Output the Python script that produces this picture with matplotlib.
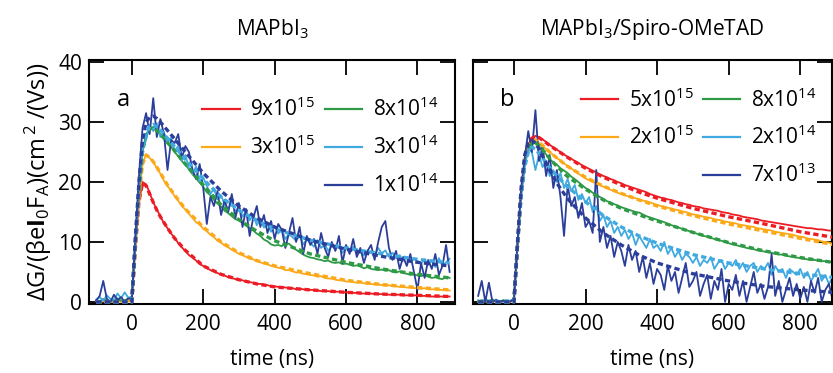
import numpy as np
import matplotlib.pyplot as plt
from matplotlib.lines import Line2D

plt.rcParams['font.family'] = ['Open Sans', 'DejaVu Sans']
plt.rcParams['mathtext.fontset'] = 'custom'
plt.rcParams['mathtext.rm'] = 'Open Sans'
plt.rcParams['mathtext.it'] = 'Open Sans:italic'
plt.rcParams['mathtext.bf'] = 'Open Sans:bold'

# measured traces sampled every 10 ns from -100 to 890 ns
t = np.arange(-100, 900, 10)
# fit curves
t_fit = [-100, -10, 0, 10, 20, 30, 40, 50, 60, 70, 80, 100, 120, 150, 200,
         250, 300, 350, 400, 500, 600, 700, 800, 890]

colors = ['#ED1C24', '#FBA919', '#2E9A45', '#3FA9E0', '#2B3E99']

labels_a = ['9x10$^{15}$', '3x10$^{15}$', '8x10$^{14}$', '3x10$^{14}$', '1x10$^{14}$']
labels_b = ['5x10$^{15}$', '2x10$^{15}$', '8x10$^{14}$', '2x10$^{14}$', '7x10$^{13}$']

# ---- panel a: MAPbI3 ----
a_red = [0.1, 0.0, 0.2, 0.0, 0.1, 0.0, 0.1, 0.2, 0.0, 0.1,
         0.3,
         9.0, 16.5, 20.0, 19.6, 18.2, 16.6, 15.4, 14.3, 13.1, 12.3,
         11.4, 10.7, 9.8, 9.1, 8.5, 7.8, 7.4, 6.9, 6.3, 6.0,
         5.7, 5.3, 5.1, 4.8, 4.6, 4.4, 4.1, 4.0, 3.8, 3.7,
         3.6, 3.4, 3.3, 3.2, 3.0, 3.0, 2.9, 2.8, 2.6, 2.6,
         2.5, 2.5, 2.4, 2.3, 2.3, 2.1, 2.2, 2.1, 2.0, 2.0,
         2.0, 1.9, 1.8, 1.8, 1.8, 1.7, 1.7, 1.7, 1.6, 1.6,
         1.6, 1.5, 1.5, 1.4, 1.4, 1.4, 1.4, 1.3, 1.3, 1.3,
         1.3, 1.2, 1.2, 1.2, 1.2, 1.1, 1.1, 1.1, 1.1, 1.1,
         1.0, 1.0, 1.0, 0.9, 0.9, 0.9, 0.9, 0.9, 0.9]
a_orange = [0.2, 0.0, 0.1, 0.3, 0.0, 0.2, 0.1, 0.0, 0.3, 0.1,
            0.4,
            9.5, 17.5, 23.0, 24.6, 24.0, 23.4, 22.3, 21.4, 20.2, 19.3,
            18.6, 17.6, 16.9, 16.0, 15.4, 14.7, 14.0, 13.3, 12.9, 12.2,
            11.8, 11.2, 10.8, 10.2, 9.9, 9.4, 9.1, 8.7, 8.4, 8.0,
            7.8, 7.5, 7.2, 7.1, 6.8, 6.6, 6.4, 6.3, 6.0, 5.9,
            5.7, 5.6, 5.3, 5.3, 5.1, 4.9, 4.9, 4.7, 4.6, 4.5,
            4.4, 4.2, 4.3, 4.0, 3.9, 3.9, 3.7, 3.6, 3.6, 3.4,
            3.4, 3.3, 3.2, 3.3, 3.1, 3.0, 3.0, 2.9, 2.9, 2.8,
            2.7, 2.8, 2.6, 2.6, 2.5, 2.5, 2.4, 2.4, 2.3, 2.3,
            2.2, 2.3, 2.1, 2.1, 2.1, 2.0, 2.0, 2.0, 1.9]
a_green = [0.3, 0.1, 0.5, 0.2, 0.0, 0.4, 0.6, 0.2, 0.3, 0.5,
           0.6,
           10.0, 18.5, 25.0, 28.0, 28.8, 29.2, 28.6, 28.0, 27.2, 26.4,
           25.9, 25.0, 24.3, 23.5, 22.9, 22.1, 21.3, 20.6, 19.9, 19.2,
           18.3, 17.8, 17.0, 16.4, 15.9, 15.2, 14.8, 14.3, 13.8, 13.6,
           13.2, 12.7, 12.3, 11.9, 11.4, 11.0, 10.4, 10.1, 9.6, 9.4,
           9.5, 9.3, 9.8, 9.7, 9.2, 8.7, 8.3, 7.9, 7.6, 7.4,
           7.3, 7.1, 7.0, 6.8, 6.9, 6.6, 6.5, 6.6, 6.3, 6.4,
           6.2, 6.0, 6.1, 5.9, 5.6, 5.8, 5.5, 5.4, 5.3, 5.4,
           5.2, 5.3, 5.0, 4.9, 5.1, 4.8, 4.7, 4.5, 4.6, 4.4,
           4.3, 4.5, 4.2, 4.0, 4.1, 3.9, 3.8, 4.2, 4.0]
a_lblue = [0.4, 0.8, 0.2, 1.1, 0.5, 0.3, 1.4, 0.6, 1.6, 0.7,
           0.9,
           10.5, 19.5, 25.5, 27.0, 29.5, 28.5, 29.8, 27.5, 28.3, 26.6,
           27.4, 25.2, 26.0, 23.6, 24.5, 22.3, 21.4, 22.6, 20.1, 20.8,
           19.3, 18.0, 18.9, 17.1, 17.8, 16.2, 15.4, 16.8, 15.0, 15.9,
           14.2, 15.1, 13.6, 14.5, 12.8, 13.9, 12.4, 12.9, 11.7, 12.6,
           11.4, 12.1, 10.5, 11.3, 10.8, 10.2, 11.0, 9.6, 10.4, 9.9,
           9.2, 10.3, 9.0, 9.6, 8.5, 9.4, 8.8, 9.3, 8.2, 9.0,
           8.6, 9.2, 8.0, 8.7, 7.7, 8.5, 8.3, 7.6, 9.0, 8.1,
           8.6, 7.5, 8.2, 7.3, 7.8, 6.9, 7.5, 6.6, 7.2, 6.8,
           6.4, 7.1, 6.2, 6.9, 5.8, 7.3, 6.0, 6.6, 7.2]
a_dblue = [0.2, 1.0, 3.5, 0.5, 0.0, 1.2, 0.3, 0.8, 0.0, 0.6,
           0.5,
           11.0, 21.0, 29.0, 31.5, 28.0, 34.0, 27.5, 30.5, 28.0, 22.0,
           27.0, 26.5, 28.0, 24.0, 26.0, 25.0, 22.0, 20.5, 23.0, 19.0,
           13.0, 17.5, 16.0, 18.5, 14.5, 17.0, 15.0, 18.0, 14.0, 16.5,
           12.5, 15.5, 11.0, 14.0, 16.0, 12.5, 14.5, 11.5, 13.5, 10.5,
           13.0, 12.0, 9.0, 11.5, 14.0, 10.0, 12.5, 8.0, 11.0, 9.5,
           10.5, 8.0, 11.5, 9.0, 7.5, 10.0, 8.5, 11.0, 6.5, 9.5,
           8.0, 10.5, 7.5, 9.0, 6.5, 8.5, 9.5, 7.0, 10.0, 12.5,
           13.5, 9.0, 7.0, 8.5, 5.5, 7.5, 6.0, 8.0, 5.0, 2.0,
           6.5, 4.0, 7.0, 5.5, 8.0, 4.5, 6.0, 9.5, 5.0]

a_red_fit = [0, 0, 0, 9, 16.8, 19.8, 19.4, 18.0, 16.6, 15.3, 14.2, 12.3, 10.6,
             8.6, 6.0, 4.6, 3.7, 3.0, 2.5, 2.0, 1.6, 1.3, 1.1, 0.9]
a_orange_fit = [0, 0, 0, 9.5, 17.5, 23, 24.5, 24.1, 23.4, 22.5, 21.5, 19.5, 17.8,
                15.5, 12.5, 10.0, 8.2, 6.9, 6.0, 4.7, 3.6, 2.9, 2.4, 2.0]
a_green_fit = [0, 0, 0, 10, 18.5, 25, 28, 28.9, 29, 28.6, 28.0, 26.6, 25.2,
               23.0, 19.5, 16.2, 13.7, 11.8, 10.2, 8.0, 6.6, 5.5, 4.6, 4.0]
a_lblue_fit = [0, 0, 0, 10.5, 19.5, 25.5, 28, 29.3, 29.6, 29.2, 28.7, 27.3, 25.9,
               23.8, 20.5, 17.5, 15.3, 13.6, 12.2, 10.3, 9.0, 8.0, 7.1, 6.5]
a_dblue_fit = [0, 0, 0, 10.8, 20, 27, 30, 30.8, 31, 30.6, 30, 28.6, 27.2,
               25, 21.5, 18.5, 16.0, 14.0, 12.5, 10.3, 8.8, 7.6, 6.6, 6.0]

# ---- panel b: MAPbI3/Spiro-OMeTAD ----
b_red = [0.1, 0.0, 0.2, 0.1, 0.0, 0.2, 0.0, 0.1, 0.1, 0.0,
         0.3,
         9.5, 18.0, 23.5, 26.3, 27.3, 27.7, 27.5, 27.1, 26.7, 26.2,
         25.8, 25.4, 25.0, 24.6, 24.2, 23.9, 23.5, 23.2, 22.8, 22.5,
         22.2, 21.9, 21.6, 21.3, 21.0, 20.8, 20.5, 20.3, 20.0, 19.8,
         19.5, 19.3, 19.1, 18.9, 18.7, 18.5, 18.3, 18.0, 17.8, 17.6,
         17.4, 17.3, 17.1, 17.0, 16.8, 16.6, 16.5, 16.3, 16.2, 16.0,
         15.9, 15.8, 15.6, 15.5, 15.4, 15.3, 15.2, 15.0, 14.9, 14.8,
         14.6, 14.5, 14.4, 14.2, 14.1, 14.0, 13.9, 13.8, 13.6, 13.5,
         13.4, 13.3, 13.2, 13.1, 13.0, 12.9, 12.8, 12.7, 12.6, 12.5,
         12.4, 12.3, 12.3, 12.2, 12.1, 12.1, 12.0, 11.9, 11.9]
b_orange = [0.0, 0.2, 0.1, 0.0, 0.2, 0.1, 0.0, 0.2, 0.0, 0.1,
            0.3,
            9.5, 18.0, 23.5, 26.0, 26.8, 27.0, 26.5, 26.0, 25.5, 25.0,
            24.5, 24.0, 23.6, 23.1, 22.7, 22.3, 21.8, 21.4, 21.0, 20.6,
            20.3, 20.0, 19.8, 19.5, 19.2, 19.0, 18.7, 18.5, 18.2, 18.0,
            17.8, 17.6, 17.4, 17.3, 17.1, 16.9, 16.8, 16.6, 16.4, 16.2,
            16.0, 15.9, 15.7, 15.6, 15.4, 15.3, 15.1, 15.0, 14.8, 14.6,
            14.5, 14.4, 14.2, 14.1, 14.0, 13.8, 13.7, 13.6, 13.4, 13.3,
            13.2, 13.1, 12.9, 12.8, 12.7, 12.6, 12.5, 12.3, 12.2, 12.1,
            12.0, 11.9, 11.7, 11.6, 11.5, 11.4, 11.3, 11.2, 11.0, 10.9,
            10.8, 10.6, 10.5, 10.4, 10.3, 10.1, 10.0, 9.9, 9.7]
b_green = [0.1, 0.3, 0.0, 0.2, 0.4, 0.1, 0.0, 0.3, 0.2, 0.1,
           0.3,
           9.5, 18.0, 23.0, 25.5, 26.4, 26.5, 26.0, 25.3, 24.6, 23.8,
           23.3, 22.9, 22.3, 21.9, 21.5, 20.9, 20.5, 20.0, 19.5, 19.0,
           18.7, 18.2, 17.9, 17.5, 17.2, 16.8, 16.6, 16.3, 16.1, 15.8,
           15.6, 15.4, 15.2, 15.0, 14.9, 14.6, 14.3, 14.1, 13.9, 13.7,
           13.5, 13.3, 13.0, 12.8, 12.6, 12.4, 12.2, 12.0, 11.8, 11.6,
           11.4, 11.2, 11.0, 10.9, 10.7, 10.5, 10.3, 10.2, 10.0, 9.8,
           9.6, 9.5, 9.3, 9.2, 9.0, 8.9, 8.8, 8.6, 8.5, 8.4,
           8.3, 8.2, 8.0, 7.9, 7.9, 7.7, 7.6, 7.5, 7.4, 7.3,
           7.2, 7.1, 7.0, 7.0, 6.9, 6.8, 6.8, 6.7, 6.6]
b_lblue = [0.3, 0.0, 0.5, 0.2, 0.0, 0.4, 0.1, 0.0, 0.3, 0.2,
           0.4,
           9.5, 17.5, 22.5, 25.5, 25.0, 22.0, 24.5, 22.5, 23.5, 21.0,
           22.0, 20.0, 21.5, 19.0, 20.5, 18.5, 19.5, 17.0, 18.0, 16.5,
           17.5, 15.0, 16.0, 13.5, 14.5, 12.5, 13.5, 11.5, 12.5, 11.0,
           12.0, 10.5, 11.5, 9.5, 11.0, 10.0, 9.0, 10.5, 9.0, 9.5,
           8.5, 10.0, 8.0, 9.0, 7.5, 8.5, 7.0, 8.0, 7.5, 6.5,
           7.5, 6.0, 7.0, 6.5, 7.5, 5.5, 6.5, 7.0, 5.5, 6.5,
           6.0, 7.0, 5.5, 6.5, 5.0, 6.0, 6.5, 5.0, 6.0, 5.5,
           6.5, 4.5, 6.0, 5.0, 5.5, 4.0, 5.5, 5.0, 4.5, 5.5,
           4.0, 5.0, 3.5, 4.5, 5.5, 3.5, 4.5, 3.0, 4.0]
b_dblue = [1.0, 3.5, 0.0, 3.2, 0.0, 0.3, 0.0, 0.2, 0.0, 0.1,
           0.5,
           10.0, 19.0, 24.0, 28.5, 25.0, 32.0, 23.5, 26.0, 21.0, 24.5,
           19.0, 22.0, 17.5, 11.0, 19.5, 16.0, 17.5, 14.0, 16.5, 12.5,
           13.5, 11.5, 22.0, 10.0, 12.5, 9.0, 11.0, 7.5, 10.0, 8.5,
           6.0, 9.5, 7.0, 8.5, 5.0, 7.5, 4.0, 6.5, 3.0, 5.5,
           4.5, 2.0, 6.0, 3.5, 5.0, 1.5, 4.0, 6.5, 2.5, 3.5,
           5.0, 1.0, 3.0, 4.5, 0.5, 3.5, 2.0, 5.5, 0.0, 3.0,
           2.0, 4.5, 1.0, 3.5, 0.0, 2.5, 5.0, 1.5, 3.0, 0.5,
           2.5, 8.0, 1.0, 3.5, 0.0, 2.0, 4.0, 1.0, 3.0, 0.5,
           2.5, 0.0, 3.5, 1.5, 4.0, 0.0, 2.0, 3.0, 0.5]

b_red_fit = [0, 0, 0, 9.5, 18, 23.5, 26.3, 27.3, 27.6, 27.4, 27.0, 26.1, 25.3,
             24.1, 22.3, 20.8, 19.5, 18.3, 17.3, 15.6, 14.2, 13.0, 11.7, 10.8]
b_orange_fit = [0, 0, 0, 9.5, 18, 23.5, 26, 26.8, 27, 26.6, 26.1, 25.0, 24.0,
                22.6, 20.8, 19.3, 18.1, 17.0, 16.0, 14.4, 13.0, 11.8, 10.6, 9.6]
b_green_fit = [0, 0, 0, 9.5, 18, 23, 25.5, 26.4, 26.5, 26.1, 25.4, 23.9, 22.6,
               20.9, 18.8, 17.0, 15.6, 14.5, 13.5, 11.6, 9.9, 8.5, 7.4, 6.6]
b_lblue_fit = [0, 0, 0, 9.5, 17.5, 22.5, 25, 25.8, 25.5, 24.8, 24.0, 22.4, 21.0,
               19.2, 16.7, 14.4, 12.5, 11.0, 9.8, 7.9, 6.5, 5.5, 4.7, 4.1]
b_dblue_fit = [0, 0, 0, 10, 19, 24.5, 26.5, 27, 26.5, 25.5, 24.3, 22, 19.8,
               17.2, 14.0, 11.5, 9.5, 7.8, 6.5, 4.7, 3.5, 2.6, 2.0, 1.6]

meas_a = [a_red, a_orange, a_green, a_lblue, a_dblue]
fits_a = [a_red_fit, a_orange_fit, a_green_fit, a_lblue_fit, a_dblue_fit]
meas_b = [b_red, b_orange, b_green, b_lblue, b_dblue]
fits_b = [b_red_fit, b_orange_fit, b_green_fit, b_lblue_fit, b_dblue_fit]

fig = plt.figure(figsize=(8.33, 3.73), dpi=100)
ax1 = fig.add_axes([0.1068, 0.185, 0.4394, 0.654])
ax2 = fig.add_axes([0.568, 0.185, 0.4305, 0.654])

def draw(ax, meas, fits, labels, xlim, panel, title, leg_anchor):
    for c, m, f in zip(colors, meas, fits):
        ax.plot(t, m, color=c, lw=1.3, zorder=2)
        ax.plot(t_fit, f, color=c, lw=2.4, dashes=(1.6, 1.0), zorder=3)
    ax.set_xlim(*xlim)
    ax.set_ylim(-0.35, 40.35)
    ax.set_xticks([0, 200, 400, 600, 800])
    ax.set_yticks([0, 10, 20, 30, 40])
    ax.tick_params(direction='in', length=11, width=1.3, top=True, right=True,
                   labelsize=15)
    ax.tick_params(axis='x', pad=7)
    ax.tick_params(axis='y', pad=5)
    for s in ax.spines.values():
        s.set_linewidth(1.5)
    ax.set_xlabel('time (ns)', fontsize=15, labelpad=10)
    ax.set_title(title, fontsize=15, pad=18)
    ax.text(0.075, 0.81, panel, transform=ax.transAxes, fontsize=17)
    h = [Line2D([], [], color=c, lw=1.6) for c in colors]
    blank = Line2D([], [], color='none')
    handles = [h[0], h[1], blank, h[2], h[3], h[4]]
    labs = [labels[0], labels[1], '', labels[2], labels[3], labels[4]]
    ax.legend(handles, labs, ncol=2, frameon=False, fontsize=15,
              loc='upper left', bbox_to_anchor=leg_anchor,
              handlelength=1.8, handletextpad=0.5, columnspacing=0.45,
              labelspacing=0.68, borderpad=0, borderaxespad=0)

draw(ax1, meas_a, fits_a, labels_a, (-120, 905), 'a', 'MAPbI$_3$', (0.31, 0.845))
draw(ax2, meas_b, fits_b, labels_b, (-114, 888), 'b', 'MAPbI$_3$/Spiro-OMeTAD', (0.30, 0.885))
ax2.tick_params(labelleft=False)
ax1.set_ylabel('ΔG/(βe$\\mathbf{I}_\\mathrm{0}$F$_\\mathrm{A}$)(cm$^{\\,2}$ /(Vs))',
               fontsize=17, labelpad=3)

fig.savefig('out.png', dpi=100)
plt.close()
